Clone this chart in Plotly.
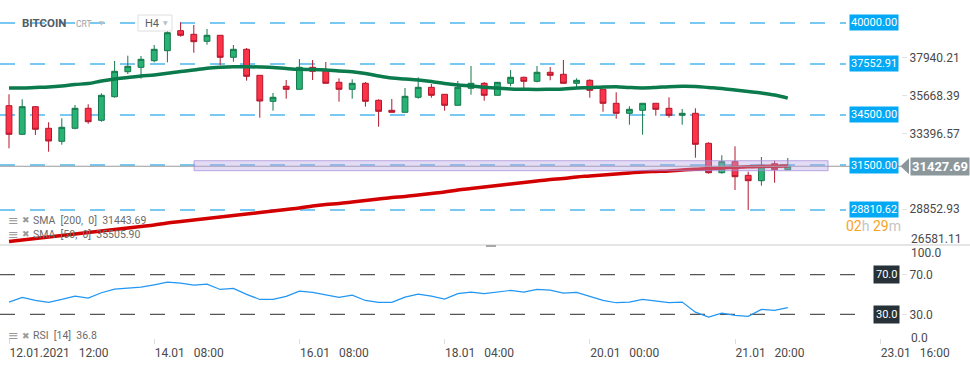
import plotly.graph_objects as go

# ---------------- data ----------------
idx = list(range(60))
opens = [35051, 33339, 34991, 33699, 32921, 33699, 34895, 34177, 35589, 37085,
         37349, 37744, 38342, 39539, 39323, 38905, 39264, 37947, 38426, 36870,
         35314, 36212, 36032, 37349, 37187, 36451, 36032, 36391, 35374, 34776,
         34656, 35554, 36152, 35733, 35075, 36092, 36391, 35673, 36391, 36750,
         36511, 37050, 36930, 36391, 36571, 36032, 35195, 34596, 34776, 35195,
         34895, 34476, 34596, 32801, 31042, 31700, 30886, 30563, 31580, 31221]
highs = [35733, 35434, 35033, 34058, 34297, 35093, 35135, 35793, 37726, 38043,
         38025, 38683, 39581, 40042, 39880, 39641, 39282, 38683, 38504, 36870,
         35811, 36589, 37845, 37786, 37666, 36691, 36631, 36469, 35434, 35452,
         36110, 36750, 36349, 35733, 36529, 37427, 36469, 36469, 37187, 36786,
         37427, 37367, 37786, 36691, 36631, 36032, 35853, 35015, 35195, 35195,
         35554, 34853, 34895, 32861, 32083, 32621, 31101, 31981, 31760, 31921]
lows = [32502, 33298, 33298, 32298, 32717, 33639, 33974, 34093, 35530, 36948,
        36667, 37648, 37648, 39180, 38222, 38701, 37486, 37684, 36547, 34333,
        34752, 35470, 36032, 36589, 36391, 35290, 35470, 34991, 33794, 34656,
        34656, 35470, 35530, 34752, 35075, 35709, 35350, 35673, 36212, 36050,
        36451, 36571, 36391, 36092, 35530, 34692, 34273, 33914, 33316, 34452,
        34333, 33914, 31939, 30982, 30982, 30006, 28810.62, 30264, 30443, 31221]
closes = [33339, 34991, 33639, 32939, 33758, 34895, 34093, 35673, 37109, 37409,
          37827, 38426, 39419, 39264, 38881, 39264, 37947, 38426, 36810, 35332,
          35554, 36032, 37349, 37109, 36391, 36032, 36391, 35314, 34716, 34656,
          35613, 36152, 35673, 35075, 36152, 36391, 35673, 36451, 36750, 36511,
          37050, 36870, 36391, 36571, 35972, 35195, 34596, 34835, 35195, 34835,
          34476, 34596, 32741, 31042, 31700, 30802, 30563, 31401, 31221, 31427.69]
sma50 = [36110, 36110, 36140, 36170, 36230, 36320, 36379, 36529, 36649, 36738,
         36828, 36888, 36990, 37097, 37187, 37289, 37349, 37385, 37385, 37367,
         37337, 37277, 37229, 37217, 37187, 37127, 37085, 36978, 36828, 36708,
         36649, 36589, 36499, 36379, 36290, 36230, 36152, 36110, 36050, 36032,
         36020, 36032, 36050, 36110, 36128, 36170, 36188, 36140, 36110, 36140,
         36188, 36212, 36200, 36140, 36080, 35990, 35901, 35811, 35691, 35505.90]
sma200 = [26925, 27014, 27104, 27194, 27284, 27373, 27463, 27553, 27643, 27732,
          27822, 27912, 28032, 28121, 28211, 28301, 28391, 28480, 28570, 28660,
          28750, 28839, 28929, 29049, 29139, 29199, 29288, 29378, 29468, 29558,
          29617, 29707, 29797, 29887, 30006, 30096, 30186, 30276, 30365, 30455,
          30545, 30635, 30695, 30784, 30844, 30904, 30964, 31024, 31084, 31114,
          31143, 31203, 31245, 31293, 31323, 31365, 31401, 31419, 31431, 31443.69]
rsi = [42.3, 47.1, 44.0, 42.0, 45.0, 48.4, 46.3, 51.8, 55.4, 56.4,
       57.4, 59.8, 62.5, 61.5, 59.4, 60.5, 55.1, 56.1, 50.1, 45.0,
       45.0, 48.1, 53.4, 52.1, 49.4, 47.1, 49.4, 44.0, 42.0, 42.0,
       47.4, 50.4, 48.4, 45.3, 50.8, 52.4, 50.8, 52.4, 54.1, 52.4,
       55.1, 54.4, 51.4, 52.1, 48.1, 44.0, 41.7, 42.3, 45.0, 43.3,
       41.7, 42.3, 32.2, 27.2, 31.2, 28.9, 27.9, 35.0, 34.0, 36.8]

xtick_idx = [0, 11, 22, 33, 44, 55, 66]
xtick_text = ["12.01.2021\u00a0\u00a0\u00a012:00", "14.01\u00a0\u00a0\u00a008:00", "16.01\u00a0\u00a0\u00a008:00",
              "18.01\u00a0\u00a0\u00a004:00", "20.01\u00a0\u00a0\u00a000:00", "21.01\u00a0\u00a0\u00a020:00",
              "23.01\u00a0\u00a0\u00a016:00"]
price_ticks = [37940.21, 35668.39, 33396.57, 28852.93]
level_lines = [40000.00, 37552.91, 34500.00, 31500.00, 28810.62]
current_price = 31427.69
zone = [31161, 31759]
rsi_levels = [70.0, 30.0]

# ---------------- geometry helpers ----------------
W, H = 970, 368
ML, MR, MT, MB = 0, 69, 0, 24
PW = W - ML - MR
PH = H - MT - MB

def px(xp):
    return xp / PW

def py(yp):
    return (PH - yp) / PH

FONT = "Roboto"
BLUE = "#4db6ee"

fig = go.Figure()
fig.add_trace(go.Candlestick(
    x=idx, open=opens, high=highs, low=lows, close=closes,
    increasing=dict(fillcolor="#27b373", line=dict(color="#16764b", width=1)),
    decreasing=dict(fillcolor="#fd3349", line=dict(color="#b3172c", width=1)),
    whiskerwidth=0, xaxis="x", yaxis="y", showlegend=False, hoverinfo="skip"))
fig.add_trace(go.Scatter(x=idx, y=sma50, mode="lines", line=dict(color="#0b7a4c", width=3.5, shape="spline"),
                         xaxis="x", yaxis="y", showlegend=False, hoverinfo="skip"))
fig.add_trace(go.Scatter(x=idx, y=sma200, mode="lines", line=dict(color="#d30000", width=3.5, shape="spline"),
                         xaxis="x", yaxis="y", showlegend=False, hoverinfo="skip"))
fig.add_trace(go.Scatter(x=idx, y=rsi, mode="lines", line=dict(color="#2196f3", width=1.2),
                         xaxis="x2", yaxis="y2", showlegend=False, hoverinfo="skip"))

xrange_ = [-9 / 13.2, (PW - 9) / 13.2]
shapes = []
annotations = []

# price level dashed lines + labels
for lv in level_lines:
    shapes.append(dict(type="line", xref="paper", yref="y", x0=0, x1=px(846), y0=lv, y1=lv,
                       line=dict(color=BLUE, width=1.5, dash="15px,15px"), layer="below"))
# current price line
shapes.append(dict(type="line", xref="paper", yref="y", x0=0, x1=px(901), y0=current_price, y1=current_price,
                   line=dict(color="#9a9a9a", width=1)))
# zone rectangle (above candles)
shapes.append(dict(type="rect", xref="x", yref="y", x0=14.02, x1=62.05, y0=zone[0], y1=zone[1],
                   fillcolor="rgba(186,168,228,0.4)", line=dict(color="rgba(160,135,215,0.7)", width=1),
                   layer="above"))
for lv in level_lines:
    annotations.append(dict(xref="paper", yref="y", x=px(873.7), y=lv, text=f"{lv:.2f}", showarrow=False,
                            xanchor="center", yanchor="middle", bgcolor="#03a9f4",
                            font=dict(family=FONT, size=11, color="white"), borderpad=1))
# current price label with arrow
shapes.append(dict(type="path", xref="paper", yref="y",
                   path=f"M {px(900.5)},{current_price} L {px(909)},{current_price + 480} L {px(909)},{current_price - 480} Z",
                   fillcolor="#8c979c", line=dict(width=0)))
annotations.append(dict(xref="paper", yref="y", x=px(939.5), y=current_price, text=f"<b>{current_price:.2f}</b>",
                        showarrow=False, xanchor="center", yanchor="middle", bgcolor="#8c979c",
                        font=dict(family=FONT, size=13, color="white"), borderpad=1))
# countdown
annotations.append(dict(xref="paper", yref="paper", x=px(873.5), y=py(226), showarrow=False,
                        text="<span style='color:#f7a427'>02</span><span style='color:#c4c4c4'>h</span> "
                             "<span style='color:#f7a427'>29</span><span style='color:#c4c4c4'>m</span>",
                        font=dict(family=FONT, size=14), xanchor="center", yanchor="middle"))

# RSI levels
for lv in rsi_levels:
    shapes.append(dict(type="line", xref="paper", yref="y2", x0=0, x1=px(858), y0=lv, y1=lv,
                       line=dict(color="#555555", width=1.3, dash="15px,15px"), layer="below"))
    annotations.append(dict(xref="paper", yref="y2", x=px(886.7), y=lv, text=f"{lv:.1f}", showarrow=False,
                            xanchor="center", yanchor="middle", bgcolor="#263238",
                            font=dict(family=FONT, size=11, color="white"), borderpad=2))

# separator + handle
shapes.append(dict(type="line", xref="paper", yref="paper", x0=0, x1=1.08, y0=py(245), y1=py(245),
                   line=dict(color="#dddddd", width=1.5)))
shapes.append(dict(type="rect", xref="paper", yref="paper", x0=px(486), x1=px(496), y0=py(247), y1=py(245),
                   fillcolor="#a8a8a8", line=dict(width=0)))

# header
annotations.append(dict(xref="paper", yref="paper", x=px(20), y=py(23), text="<b>BITCOIN</b>", showarrow=False,
                        xanchor="left", yanchor="middle", font=dict(family=FONT, size=11.5, color="#505c66")))
annotations.append(dict(xref="paper", yref="paper", x=px(74), y=py(24), text="CRT", showarrow=False,
                        xanchor="left", yanchor="middle", font=dict(family=FONT, size=8.5, color="#9aa3a8")))
annotations.append(dict(xref="paper", yref="paper", x=px(97), y=py(22.5), text="▼", showarrow=False,
                        xanchor="left", yanchor="middle", font=dict(family="DejaVu Sans", size=6, color="#b8bec2")))
shapes.append(dict(type="rect", xref="paper", yref="paper", x0=px(138), x1=px(172), y0=py(31), y1=py(15),
                   fillcolor="white", line=dict(color="#dedede", width=1)))
annotations.append(dict(xref="paper", yref="paper", x=px(143), y=py(23), text="H4", showarrow=False,
                        xanchor="left", yanchor="middle", font=dict(family=FONT, size=11, color="#555e66")))
annotations.append(dict(xref="paper", yref="paper", x=px(161), y=py(22.5), text="▼", showarrow=False,
                        xanchor="left", yanchor="middle", font=dict(family="DejaVu Sans", size=6, color="#b8bec2")))

# indicator legends
def legend_line(ypix, text):
    annotations.append(dict(xref="paper", yref="paper", x=px(6), y=py(ypix), text="≡", showarrow=False,
                            xanchor="left", yanchor="middle", font=dict(family="DejaVu Sans", size=13, color="#9a9a9a")))
    annotations.append(dict(xref="paper", yref="paper", x=px(20), y=py(ypix), text="✖", showarrow=False,
                            xanchor="left", yanchor="middle", font=dict(family="DejaVu Sans", size=9, color="#9a9a9a")))
    annotations.append(dict(xref="paper", yref="paper", x=px(31), y=py(ypix), text=text, showarrow=False,
                            xanchor="left", yanchor="middle", font=dict(family=FONT, size=10.5, color="#6b6b6b")))

legend_line(220, "SMA\u00a0 [200,\u00a0 0]\u00a0 31443.69")
legend_line(234, "SMA\u00a0 [50,\u00a0 0]\u00a0 35505.90")
legend_line(335.5, "RSI\u00a0 [14]\u00a0 36.8")

# edge axis labels
for ypix, t in [(239.3, "26581.11"), (252.5, "100.0"), (337.7, "0.0")]:
    annotations.append(dict(xref="paper", yref="paper", x=px(909), y=py(ypix), text=t, showarrow=False,
                            xanchor="left", yanchor="middle", font=dict(family=FONT, size=12, color="#4a4a4a")))

price_range = [41376 - 59.84 * 245, 41376]

fig.update_layout(
    width=W, height=H, margin=dict(l=ML, r=MR, t=MT, b=MB),
    paper_bgcolor="white", plot_bgcolor="white", boxgap=0.37,
    font=dict(family=FONT, color="#4a4a4a"),
    showlegend=False, hovermode=False,
    xaxis=dict(domain=[0, 1], range=xrange_, anchor="y", showticklabels=False, showgrid=False,
               zeroline=False, showline=False, rangeslider=dict(visible=False), ticks=""),
    xaxis2=dict(domain=[0, 1], range=xrange_, anchor="y2", matches="x", showgrid=False, zeroline=False,
                showline=False, tickvals=xtick_idx, ticktext=xtick_text, ticks="inside", ticklen=5,
                tickcolor="#dddddd", ticklabelposition="outside right",
                tickfont=dict(family=FONT, size=12, color="#4a4a4a")),
    yaxis=dict(domain=[py(245), 1], range=price_range, side="right", showgrid=False, zeroline=False,
               showline=False, tickvals=price_ticks, ticktext=[f"{v:.2f}" for v in price_ticks],
               ticks="outside", ticklen=5, tickcolor="#e2e2e2",
               tickfont=dict(family=FONT, size=12, color="#4a4a4a")),
    yaxis2=dict(domain=[0, py(245)], range=[0, 100], side="right", showgrid=False, zeroline=False,
                showline=False, tickvals=[70, 30], ticktext=["70.0", "30.0"],
                ticks="outside", ticklen=5, tickcolor="#e2e2e2",
                tickfont=dict(family=FONT, size=12, color="#4a4a4a")),
    shapes=shapes, annotations=annotations,
)

fig.write_html("out.html", config={"displayModeBar": False},
               post_script="document.body.style.margin='0px';document.body.style.padding='0px';")
